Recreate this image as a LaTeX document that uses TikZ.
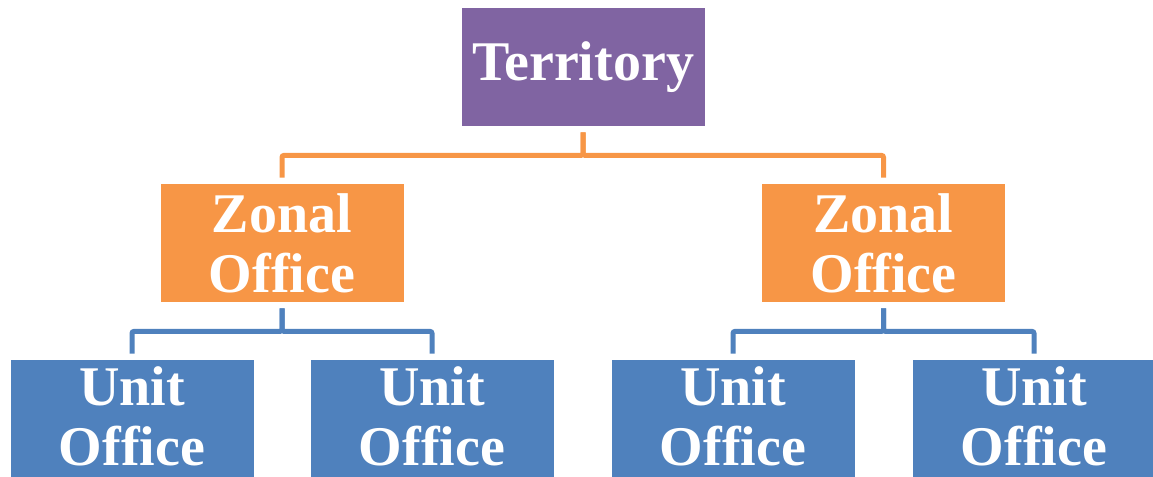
\documentclass[tikz,border=0pt]{standalone}
\usepackage{fontspec}
\setmainfont{Liberation Serif}
\usepackage{xcolor}
\usetikzlibrary{positioning}
\definecolor{terrpurple}{HTML}{8064A2}
\definecolor{zoneorange}{HTML}{F79646}
\definecolor{unitblue}{HTML}{4F81BD}
\tikzset{
  orgbox/.style={rectangle, text=white, align=center, inner sep=0pt,
                 minimum width=121.5pt, minimum height=59pt,
                 font=\fontsize{28}{30}\selectfont\bfseries},
  terrbox/.style={orgbox, fill=terrpurple},
  zonebox/.style={orgbox, fill=zoneorange},
  unitbox/.style={orgbox, fill=unitblue, text depth=3pt},
  link/.style={line width=2.5pt, rounded corners=1pt, shorten <=3pt, shorten >=3pt},
}
\begin{document}
\begin{tikzpicture}[x=0.5pt, y=-0.5pt]
  \useasboundingbox (0,0) rectangle (1153,477);

  \node[terrbox] (terr)  at (583,67)    {Territory};
  \node[zonebox] (zoneL) at (282,243)   {Zonal\\Office};
  \node[zonebox] (zoneR) at (883.5,243) {Zonal\\Office};
  \node[unitbox] (unitA) at (132,419)   {Unit\\Office};
  \node[unitbox] (unitB) at (432,419)   {Unit\\Office};
  \node[unitbox] (unitC) at (733,419)   {Unit\\Office};
  \node[unitbox] (unitD) at (1034,419)  {Unit\\Office};

  \draw[link, zoneorange] (terr.south) -- ++(0,29) -| (zoneL.north);
  \draw[link, zoneorange] (terr.south) -- ++(0,29) -| (zoneR.north);
  \draw[link, unitblue] (zoneL.south) -- ++(0,29) -| (unitA.north);
  \draw[link, unitblue] (zoneL.south) -- ++(0,29) -| (unitB.north);
  \draw[link, unitblue] (zoneR.south) -- ++(0,29) -| (unitC.north);
  \draw[link, unitblue] (zoneR.south) -- ++(0,29) -| (unitD.north);
\end{tikzpicture}
\end{document}
